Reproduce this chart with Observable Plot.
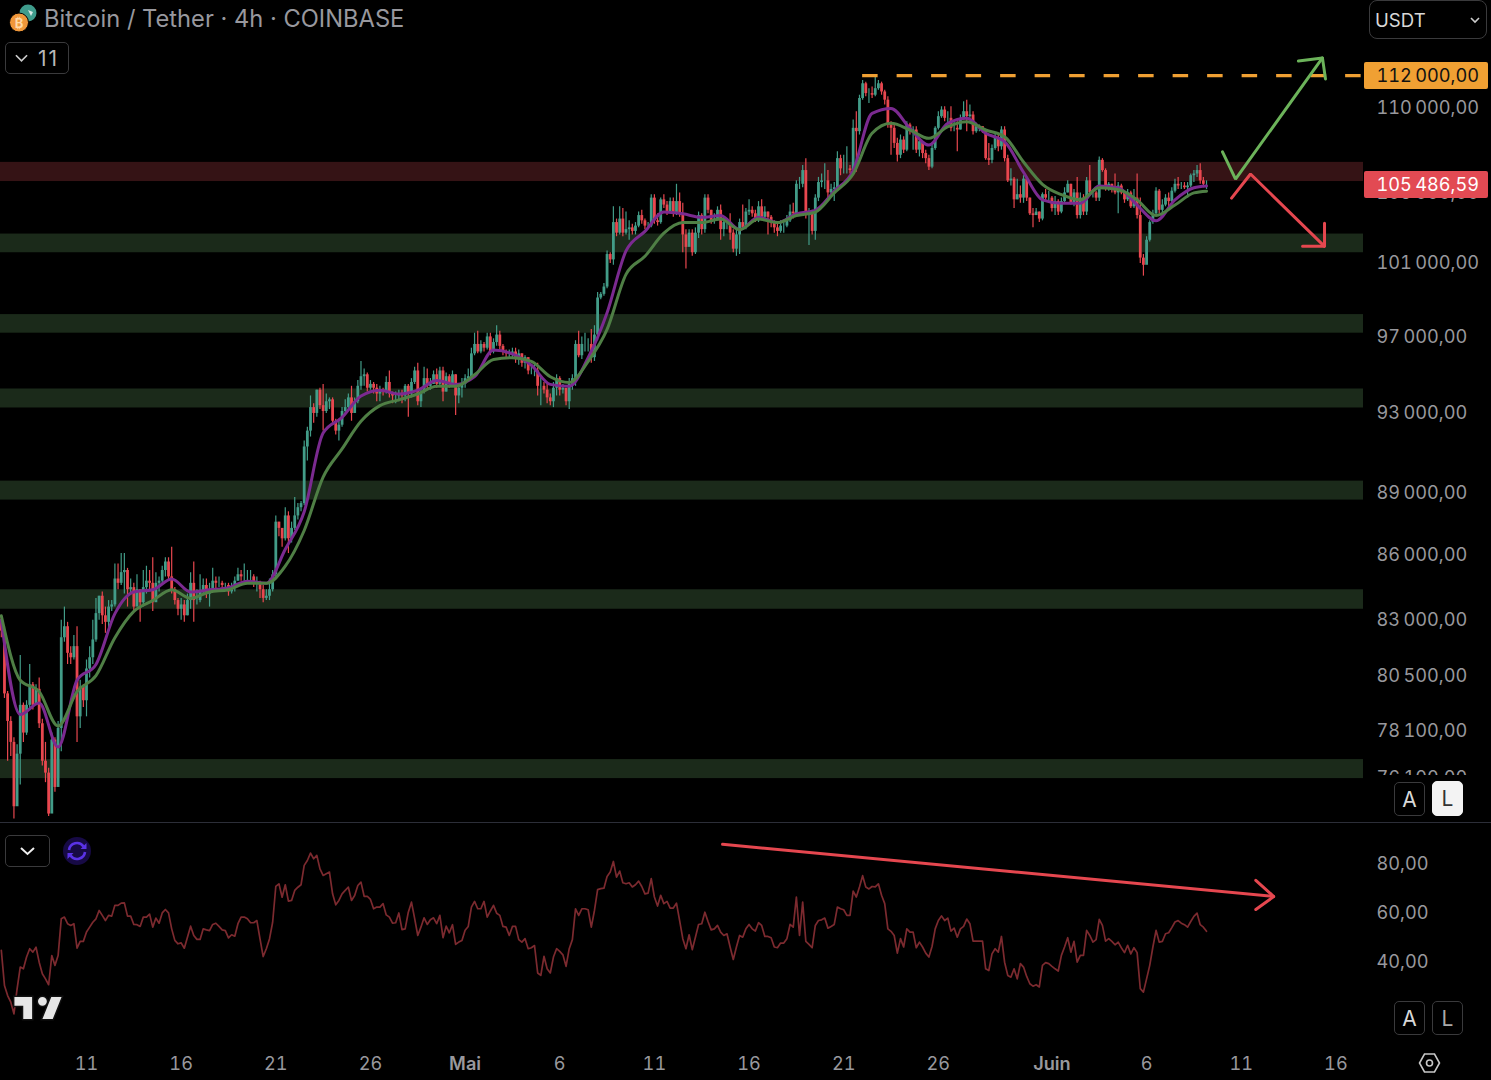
<!DOCTYPE html>
<html>
<head>
<meta charset="utf-8">
<script src="https://cdn.jsdelivr.net/npm/d3@7"></script>
<script src="https://cdn.jsdelivr.net/npm/@observablehq/plot@0.6"></script>
<style>
  html, body { margin: 0; background: #000; }
  #page { position: relative; width: 1491px; height: 1080px; overflow: hidden; background: #000; font-family: Inter, sans-serif; }
  #price, #rsi { position: absolute; left: 0; }
  #price { top: 1px; }
  #rsi { top: 823px; }
  .over { position: absolute; box-sizing: border-box; }
  .btn { border: 1.5px solid #3a3a3c; border-radius: 5px; color: #d8d8d8; display: flex; align-items: center; justify-content: center; }
  .tag { left: 1364px; width: 124px; height: 27px; border-radius: 2px; font-size: 18.2px; line-height: 27px; text-align: right; padding-right: 9px; font-variant-numeric: tabular-nums; }
</style>
</head>
<body>
<div id="page">
  <div id="price"></div>
  <div id="rsi"></div>
</div>
<script>
// all prices in thousands of USDT, one candle every 4h from 6 April 12:00
const firstOpen = 83.0
const closes = [
  82.5,79.7,78.5,77.6,74.9,77.1,
  79.2,78.0,79.2,80.1,79.2,79.9,
  78.4,76.8,76.3,74.6,77.7,75.7,
  78.2,82.2,82.7,81.5,81.3,81.8,
  78.7,80.0,79.4,80.8,81.3,82.1,
  83.3,84.1,83.2,82.9,83.6,83.7,
  84.9,84.7,85.2,85.3,84.4,84.5,
  83.6,84.4,83.8,84.5,84.8,84.7,
  83.8,84.7,84.8,85.3,85.7,85.0,
  84.4,83.9,83.5,83.7,83.2,83.9,
  84.7,83.9,83.9,84.3,84.6,84.2,
  84.4,84.8,84.7,84.7,84.6,84.6,
  84.3,84.5,84.8,85.1,85.0,85.0,
  85.0,85.0,84.7,84.7,84.4,84.0,
  84.1,84.4,85.1,87.6,87.3,86.8,
  87.9,86.8,87.3,87.9,88.3,88.5,
  91.3,92.1,93.3,93.0,94.2,93.4,
  93.1,93.6,93.7,92.6,92.1,92.4,
  93.1,93.3,93.8,93.0,93.6,94.4,
  94.9,95.0,94.3,94.5,94.3,94.0,
  94.2,94.1,94.6,94.0,93.9,93.9,
  94.0,93.9,94.4,94.0,94.6,95.2,
  93.6,94.1,94.8,94.4,94.5,95.0,
  94.5,95.2,94.1,94.9,94.5,95.0,
  93.9,94.3,94.5,94.8,94.9,96.1,
  96.6,96.2,96.6,96.4,97.0,96.2,
  96.7,97.1,96.5,96.2,96.1,96.1,
  96.2,95.8,96.1,95.6,95.9,95.2,
  95.2,95.2,94.4,94.4,94.2,93.8,
  93.6,94.3,94.8,94.2,94.3,93.6,
  94.5,94.8,96.6,96.0,96.6,96.6,
  96.6,95.9,97.1,99.1,99.3,99.7,
  101.5,101.2,103.3,102.7,103.5,102.7,
  102.9,103.0,102.8,103.1,103.7,103.4,
  103.1,103.1,104.7,103.4,103.3,104.6,
  104.3,103.9,104.5,103.8,104.5,103.8,
  102.6,101.9,102.7,101.6,102.7,103.7,
  102.9,104.7,104.0,103.4,103.5,104.0,
  102.9,103.3,103.3,102.7,101.8,102.6,
  103.3,103.0,103.9,104.0,103.8,103.4,
  104.2,103.6,103.9,103.6,103.3,103.0,
  102.8,103.1,103.1,103.4,103.9,103.8,
  105.5,105.5,106.3,103.7,103.9,102.8,
  104.7,105.6,105.7,105.7,105.0,105.2,
  105.3,107.0,106.4,106.4,106.4,106.3,
  108.8,108.6,110.6,111.5,110.9,110.9,
  110.8,111.2,111.5,111.0,110.5,109.0,
  108.8,107.9,107.2,108.1,107.5,109.0,
  108.6,108.7,107.5,108.0,107.3,107.0,
  106.5,107.6,108.8,109.5,109.9,109.4,
  109.4,108.8,108.8,108.7,109.4,109.8,
  109.5,109.6,108.6,108.9,108.9,108.7,
  107.0,106.9,107.6,108.2,107.7,108.7,
  107.0,105.7,105.8,104.6,104.9,104.7,
  105.8,104.7,103.8,103.7,103.9,103.5,
  104.9,104.7,104.7,104.1,104.5,103.9,
  104.5,105.0,105.5,104.4,105.0,103.7,
  104.7,103.9,105.7,105.0,105.0,104.7,
  106.9,106.3,105.2,105.5,105.2,105.0,
  105.4,105.0,104.6,105.0,104.2,104.7,
  103.7,101.3,100.9,102.3,103.3,103.8,
  105.1,104.0,104.3,104.7,104.5,105.1,
  105.5,105.4,105.4,105.3,105.4,106.0,
  106.1,106.3,105.7,105.5,105.5
]
const highs = [
  83.2,82.7,79.8,78.7,77.8,77.5,
  81.4,79.3,79.4,81.0,80.2,80.1,
  80.4,78.6,77.6,76.5,78.0,77.8,
  78.5,83.0,83.6,82.9,81.8,82.3,
  82.7,80.3,80.1,81.2,81.8,83.0,
  84.0,84.1,84.3,83.6,83.9,83.9,
  85.6,85.6,86.1,86.1,85.4,84.9,
  84.7,85.1,84.0,85.3,85.5,85.3,
  85.9,85.2,85.0,85.5,85.9,85.9,
  86.4,84.5,84.0,84.0,83.9,84.2,
  85.2,85.7,84.4,85.1,84.9,84.9,
  84.7,85.4,85.0,85.0,84.8,84.7,
  84.7,84.7,85.0,85.4,85.3,85.6,
  85.3,85.3,85.1,85.0,84.8,84.6,
  84.4,84.9,85.3,87.9,87.6,87.3,
  88.3,88.1,87.6,88.8,88.5,88.6,
  91.6,92.3,93.9,93.5,94.2,94.3,
  94.5,94.0,93.8,93.8,92.7,92.7,
  93.3,93.7,94.0,94.4,93.8,94.7,
  95.7,95.3,95.1,94.7,94.6,94.5,
  94.4,94.3,94.9,95.2,94.1,94.1,
  94.2,94.2,94.5,94.5,94.8,95.4,
  95.6,94.3,95.4,95.3,94.8,95.2,
  95.3,95.4,95.4,95.1,95.0,95.2,
  95.0,94.5,94.8,95.0,95.3,96.4,
  97.2,97.3,96.8,96.7,97.2,97.2,
  96.9,97.6,97.3,96.6,96.3,96.3,
  96.4,96.4,96.3,96.1,96.0,95.9,
  95.4,95.6,95.6,94.9,94.6,94.5,
  94.0,94.6,95.0,94.9,94.5,94.2,
  94.8,95.0,96.8,97.3,97.0,97.2,
  96.9,97.4,97.6,99.4,99.4,99.9,
  101.7,101.6,104.2,103.5,104.2,104.1,
  103.9,103.4,103.2,103.3,103.9,104.0,
  103.5,103.3,104.9,104.9,103.8,104.7,
  104.9,104.5,104.7,104.7,105.5,105.0,
  104.4,102.9,102.9,102.9,103.0,103.9,
  103.8,104.9,104.9,104.0,103.8,104.2,
  104.3,103.6,103.5,103.8,102.9,103.0,
  103.5,104.3,104.1,104.6,104.2,104.0,
  104.5,104.6,104.2,103.9,103.7,103.4,
  103.2,103.4,103.3,103.7,104.3,104.4,
  105.7,105.9,106.6,107.0,104.1,104.0,
  104.9,105.9,106.1,106.7,106.3,105.5,
  105.6,107.4,107.2,107.2,107.7,106.6,
  109.3,109.8,110.8,111.7,111.6,111.2,
  111.3,112.0,111.7,111.6,111.1,110.7,
  109.2,109.0,108.2,108.4,108.3,109.2,
  109.1,108.9,108.9,108.2,107.6,107.5,
  107.2,107.8,108.9,109.8,110.1,110.1,
  109.8,110.1,109.2,109.2,109.6,110.4,
  110.5,110.2,109.8,109.1,109.0,108.9,
  108.7,107.9,107.8,108.5,108.4,108.9,
  108.9,107.2,106.4,105.9,105.8,105.4,
  106.0,105.9,104.7,104.1,104.1,103.9,
  105.0,105.2,105.1,104.8,104.8,104.6,
  104.7,105.3,105.7,105.5,105.2,105.9,
  105.0,104.9,105.9,106.6,105.2,105.1,
  107.1,107.0,106.4,105.6,105.5,106.1,
  105.6,105.5,105.1,105.2,105.1,105.2,
  106.1,104.7,101.5,102.5,103.4,104.0,
  105.3,105.2,104.6,104.9,105.0,105.3,
  105.8,105.9,105.6,105.6,105.6,106.1,
  106.3,106.6,106.7,105.9,105.7
]
const lows = [
  82.2,79.5,76.8,77.0,74.4,75.0,
  75.8,77.6,77.9,79.0,79.0,79.2,
  78.2,76.6,75.9,74.5,74.8,75.5,
  75.9,77.2,82.0,81.0,81.0,81.2,
  77.6,78.2,79.1,78.7,80.4,81.0,
  82.0,83.0,82.8,82.4,82.5,83.4,
  83.6,84.4,84.6,84.2,83.6,84.2,
  83.4,84.2,82.9,83.6,84.2,84.4,
  83.4,84.2,84.3,84.7,85.0,84.8,
  84.2,83.7,83.2,83.0,82.9,83.2,
  83.5,82.9,83.7,83.8,84.2,84.0,
  83.6,84.4,84.4,84.5,84.4,84.4,
  84.1,84.2,84.3,84.8,84.8,84.8,
  84.7,84.7,84.5,84.3,84.0,83.8,
  83.9,83.9,84.3,84.9,86.9,86.4,
  86.7,86.1,86.6,87.2,87.7,88.1,
  88.4,90.6,91.8,92.5,92.8,93.2,
  92.1,93.0,93.2,92.4,91.9,91.6,
  92.3,93.0,93.2,92.6,93.0,93.5,
  94.2,94.4,94.1,94.2,94.0,93.6,
  93.6,93.9,94.0,93.8,93.5,93.5,
  93.6,93.5,93.6,92.8,93.8,94.5,
  93.4,93.3,94.0,94.2,94.2,94.5,
  94.3,94.4,93.6,94.1,94.3,94.5,
  92.9,93.5,93.8,94.3,94.6,94.9,
  96.0,96.1,96.1,96.2,96.3,96.0,
  96.1,96.5,96.3,96.0,95.9,95.9,
  95.8,95.6,95.5,95.4,95.3,95.0,
  95.0,94.9,93.9,93.4,94.0,93.5,
  93.4,93.3,93.9,93.9,94.0,93.4,
  93.2,94.2,94.4,95.9,95.8,96.2,
  96.2,95.6,95.7,96.8,99.0,99.2,
  99.6,101.0,100.9,102.5,102.6,102.5,
  102.6,102.3,102.6,102.6,103.0,103.2,
  102.9,102.9,103.0,103.2,103.1,103.2,
  104.1,103.7,103.8,103.6,103.7,103.6,
  101.6,100.7,102.0,101.4,101.5,102.4,
  102.6,102.7,103.8,103.2,103.2,103.4,
  102.3,102.5,102.9,102.3,101.6,101.4,
  101.5,102.9,102.9,103.7,103.6,103.3,
  103.3,103.4,103.5,102.6,103.0,102.7,
  102.5,102.7,102.7,103.0,103.3,103.5,
  103.7,105.2,105.3,103.5,102.0,102.6,
  102.3,104.5,105.3,105.2,104.6,104.8,
  104.5,105.2,106.0,106.1,106.1,106.1,
  106.2,106.2,108.4,110.5,110.7,110.3,
  110.6,110.7,111.1,110.8,110.2,108.8,
  107.2,107.6,106.8,107.0,107.3,107.4,
  108.4,107.5,107.3,107.1,107.0,106.7,
  106.3,106.4,107.5,108.7,109.4,109.2,
  109.0,108.6,108.6,107.4,108.7,109.3,
  108.6,109.4,108.4,108.5,108.6,108.5,
  106.9,106.6,106.7,107.5,107.4,107.5,
  106.8,105.6,105.4,104.1,104.6,104.4,
  104.4,104.5,103.7,103.0,103.7,103.3,
  103.4,104.5,104.4,103.9,103.7,103.7,
  103.8,104.4,105.0,104.3,104.2,103.5,
  103.5,103.7,103.7,104.9,104.7,104.5,
  104.5,106.2,105.1,105.1,105.0,104.9,
  103.8,104.9,104.4,104.5,104.1,104.1,
  103.5,101.0,100.3,101.0,102.2,103.2,
  103.7,103.8,103.8,104.2,104.2,104.4,
  105.0,105.2,105.2,105.2,104.7,105.3,
  105.6,105.9,105.5,105.3,105.2
]
// moving averages, read once a day, last value at the last candle
const maFast = [83.0,78.8,79.3,77.4,80.3,81.0,83.3,84.3,84.4,84.9,84.3,84.4,84.5,84.8,84.7,86.3,
  88.1,92.0,92.8,93.9,94.2,94.0,94.2,94.7,94.5,94.9,96.3,96.1,95.5,94.5,94.4,95.9,
  98.3,101.7,102.8,103.9,103.8,103.6,103.7,102.9,103.6,103.3,103.8,104.0,105.1,106.3,
  109.7,110.0,108.8,107.8,109.1,109.4,108.5,108.0,106.2,104.6,
  104.4,104.4,105.4,105.3,104.3,103.4,104.6,105.3,105.4]
const maSlow = [83.2,80.3,79.8,78.3,79.8,80.5,82.2,83.4,83.9,84.4,84.0,84.3,84.4,84.7,84.7,85.5,
  87.2,89.8,91.2,92.6,93.4,93.7,94.0,94.4,94.4,95.0,95.8,95.9,95.7,94.9,94.6,95.7,
  97.4,100.4,101.4,102.7,103.3,103.3,103.5,102.9,103.5,103.3,103.7,103.9,105.0,106.1,
  108.5,109.1,108.7,108.2,108.9,109.2,108.7,108.3,106.8,105.5,
  104.9,104.6,105.3,105.2,104.6,103.7,104.3,105.0,105.1]
const rsiValues = [
  44.9,30.6,26.5,23.8,19.0,29.2,38.1,37.4,42.2,45.6,44.2,46.2,40.1,35.4,33.3,30.9,42.8,38.8,42.8,57.8,
  58.5,55.8,55.1,55.8,45.8,48.6,48.6,52.4,54.4,56.4,57.8,61.2,59.2,57.1,59.2,58.9,63.3,63.3,64.2,64.3,
  58.9,58.9,55.5,55.4,54.7,58.5,58.5,59.7,54.4,58.1,56.0,60.2,61.6,60.2,53.7,49.0,47.6,48.0,45.8,50.3,
  54.8,51.0,49.4,49.4,53.7,53.3,53.0,55.5,56.0,54.7,53.3,53.0,50.0,51.3,50.7,55.8,58.5,58.5,57.8,56.2,
  56.2,57.1,49.6,42.4,45.6,49.6,56.4,71.0,72.1,66.6,71.7,65.0,65.3,69.4,70.7,71.7,79.6,81.6,84.6,82.3,
  83.7,78.2,75.5,76.2,76.9,68.0,63.5,65.3,68.0,69.4,70.7,65.3,67.3,71.4,72.8,67.0,67.0,65.7,61.9,62.6,
  62.6,64.0,59.4,58.5,56.0,56.2,60.2,53.4,53.7,60.5,64.6,58.0,51.0,54.4,58.2,55.5,57.4,58.2,55.8,59.2,
  50.1,54.8,52.1,55.4,47.4,48.3,49.0,53.1,54.7,62.6,64.9,61.9,61.9,64.9,58.5,61.0,63.3,60.1,59.2,54.7,
  54.4,51.0,54.7,54.7,49.3,48.3,49.7,45.6,46.0,46.9,35.7,34.7,42.5,37.4,35.7,42.2,45.6,44.5,43.1,38.4,
  45.6,49.3,61.9,59.2,61.9,61.9,61.5,54.4,61.2,69.7,70.1,70.3,75.1,76.9,81.2,74.8,77.3,72.5,72.1,72.5,
  70.8,71.7,73.2,71.0,68.0,68.3,74.2,66.7,63.0,67.4,64.0,64.9,62.2,62.2,64.2,57.1,49.7,45.6,51.3,45.2,
  50.3,55.5,55.8,60.5,56.7,53.3,53.7,55.1,52.4,51.0,51.7,46.3,41.2,46.3,51.0,50.3,53.7,55.5,53.7,52.8,
  56.2,55.1,50.6,50.6,50.1,46.3,46.0,47.9,47.9,49.7,55.5,54.4,66.7,51.0,64.6,48.6,47.4,46.0,55.1,57.1,
  57.4,58.1,54.0,54.7,55.5,62.6,61.9,61.5,59.2,59.2,69.1,66.7,70.8,75.4,70.8,70.0,71.0,70.8,72.1,67.4,
  64.0,53.7,52.7,51.0,43.8,49.7,46.3,53.7,52.4,52.4,46.0,48.3,46.3,43.8,42.2,46.5,53.7,57.1,59.0,57.1,
  58.1,52.8,54.0,50.3,53.7,54.7,57.7,55.8,48.7,48.7,48.7,48.7,37.4,36.7,43.5,45.6,44.2,50.6,40.1,34.7,
  34.0,37.4,33.3,39.5,38.1,34.3,31.3,30.3,30.9,30.0,38.8,39.9,39.5,38.4,37.4,36.5,42.9,46.3,50.1,44.2,
  48.6,40.1,42.9,42.9,53.1,51.0,48.3,49.3,57.6,55.1,48.7,49.7,48.6,47.2,48.3,46.0,44.0,47.0,43.5,46.0,
  44.0,29.3,27.9,33.3,38.8,46.3,53.1,48.3,48.6,51.7,52.1,54.2,56.5,57.1,56.0,55.4,54.4,56.7,58.8,60.1,
  55.4,54.4,52.7
]
const priceTicks = [110, 105, 101, 97, 93, 89, 86, 83, 80.5, 78.1, 76.1]
const rsiTicks = [80, 60, 40]
const dayTicks = [0, 5, 10, 15, 20, 25, 30, 35, 40, 45, 51, 56, 61, 66]
const dayLabels = ['11','16','21','26','Mai','6','11','16','21','26','Juin','6','11','16']
// support and resistance bands: [low, high]
const greenZones = [[101.6,102.65],[97.2,98.2],[93.28,94.26],[88.67,89.6],[83.5,84.4],[76.07,76.87]]
const redZones = [[105.66,106.78]]
const target = 112
const lastPrice = 105.48659
// hand drawn arrows, days after 11 April and price
const upArrow = [[60.01,107.4],[60.7,105.8],[65.29,113.1]]
const upHead = [[64.02,112.9],[65.29,113.1],[65.45,111.8]]
const downArrow = [[60.49,104.7],[61.49,106.1],[65.4,101.96]]
const downHead = [[64.24,101.96],[65.4,101.96],[65.4,103.26]]
const rsiArrow = [[33.6,88.2],[62.72,66.9]]
const rsiHead = [[61.77,73.5],[62.72,66.9],[61.77,61.6]]

const apr11 = Date.UTC(2025, 3, 11)
const day = n => new Date(apr11 + n * 864e5)
const green = '#429c88'
const red = '#e8474f'

const candles = closes.map((c, i) => {
  const open = i ? closes[i - 1] : firstOpen
  return {date: day(-4.5 + i / 6), open, close: c, high: highs[i], low: lows[i], color: c >= open ? green : red}
})
const maPoint = (v, k) => ({date: day(k < 64 ? -4.5 + k : -4.5 + 382 / 6), v})
const rsi = rsiValues.map((v, i) => ({date: day(-4.5 + i / 6), v}))
const pts = a => a.map(([d, v]) => ({date: day(d), v}))
const xDomain = [day(-86 / 18.93), day(1277 / 18.93)]
const priceFormat = k => {
  const n = Math.round(k * 1000)
  return `${Math.floor(n / 1000)}\u202f${String(n % 1000).padStart(3, '0')},00`
}
const style = {background: 'transparent', color: '#98989d', fontFamily: 'Inter, sans-serif', fontSize: '18.2px'}
const line = (a, stroke, w) => Plot.line(pts(a), {x: 'date', y: 'v', stroke, strokeWidth: w, strokeLinejoin: 'miter', clip: false})

const priceChart = Plot.plot({
  width: 1491,
  height: 823,
  marginLeft: 0,
  marginRight: 128,
  marginTop: 0,
  marginBottom: 1,
  style,
  x: {type: 'utc', domain: xDomain, axis: null},
  y: {type: 'log', domain: [74.213, 116.665], label: null, axis: null},
  marks: [
    Plot.rect(greenZones, {x1: xDomain[0], x2: xDomain[1], y1: d => d[0], y2: d => d[1], fill: '#1b2a1a'}),
    Plot.rect(redZones, {x1: xDomain[0], x2: xDomain[1], y1: d => d[0], y2: d => d[1], fill: '#351315'}),
    Plot.ruleX(candles, {x: 'date', y1: 'low', y2: 'high', stroke: 'color', strokeWidth: 1.2, clip: true}),
    Plot.ruleX(candles, {x: 'date', y1: 'open', y2: 'close', stroke: 'color', strokeWidth: 2.8, clip: true}),
    Plot.line(maFast.map(maPoint), {x: 'date', y: 'v', stroke: '#7b2a90', strokeWidth: 3, curve: 'monotone-x', clip: true}),
    Plot.line(maSlow.map(maPoint), {x: 'date', y: 'v', stroke: '#4f7f45', strokeWidth: 3, curve: 'monotone-x', clip: true}),
    Plot.ruleY([target], {x1: day(41), x2: xDomain[1], stroke: '#f0a033', strokeWidth: 3.4, strokeDasharray: '15.5 19'}),
    line(upArrow, '#6cb35a', 3), line(upHead, '#6cb35a', 3),
    line(downArrow, '#e5474f', 3), line(downHead, '#e5474f', 3),
    Plot.axisY(priceTicks, {anchor: 'right', tickSize: 0, tickPadding: 13, tickFormat: priceFormat, textAnchor: 'start', label: null})
  ]
})
document.getElementById('price').append(priceChart)

const rsiChart = Plot.plot({
  width: 1491,
  height: 257,
  marginLeft: 0,
  marginRight: 128,
  marginTop: 0,
  marginBottom: 35,
  style,
  x: {type: 'utc', domain: xDomain, axis: null},
  y: {domain: [6.1, 96.7], label: null, axis: null},
  marks: [
    Plot.line(rsi, {x: 'date', y: 'v', stroke: '#7c2a2f', strokeWidth: 1.7, clip: true}),
    line(rsiArrow, '#e5474f', 3), line(rsiHead, '#e5474f', 3),
    Plot.axisY(rsiTicks, {anchor: 'right', tickSize: 0, tickPadding: 13, tickFormat: d => `${d},00`, textAnchor: 'start', label: null}),
    Plot.axisX(dayTicks.map(day).filter((d, i) => dayLabels[i] !== 'Mai' && dayLabels[i] !== 'Juin'), {
      tickSize: 0, tickPadding: 12, tickFormat: d => String(d.getUTCDate()), label: null
    }),
    Plot.axisX([day(20), day(51)], {
      tickSize: 0, tickPadding: 12, fontWeight: 600, tickFormat: d => d.getUTCMonth() === 4 ? 'Mai' : 'Juin', label: null
    })
  ]
})
document.getElementById('rsi').append(rsiChart)

// chrome around the chart, price tags sit on the y scale
const page = d3.select('#page')
const y = priceChart.scale('y')
const over = (css, html, cls = '') => page.append('div').attr('class', 'over ' + cls).attr('style', css).html(html)
over('left:1364px;top:775px;width:127px;height:47px;background:#000', '')
over(`top:${y.apply(target) - 12.5}px;background:#f0a033;color:#111`, priceFormat(target), 'tag')
over(`top:${y.apply(lastPrice) - 12}px;background:#e24a53;color:#fff`, '105\u202f486,59', 'tag')
over('left:0;top:822px;width:1491px;height:1px;background:#2c2e38', '')
over('left:44px;top:4px;font-size:23.7px;line-height:30px;color:#98989e;white-space:nowrap', 'Bitcoin / Tether · 4h · COINBASE')
over('left:5px;top:42px;width:64px;height:32px;font-size:21px;letter-spacing:2px;color:#b8b8b8', '<svg width="13" height="9" viewBox="0 0 14 9" style="margin-right:10px"><path d="M1 1l6 6 6-6" fill="none" stroke="#ccc" stroke-width="1.8"/></svg>11', 'btn')
over('left:1369px;top:0;width:118px;height:39px;border-radius:8px;font-size:18.6px;justify-content:flex-start;padding-left:5px', 'USDT<svg width="10" height="7" viewBox="0 0 10 7" style="position:absolute;right:6px;top:16px"><path d="M1 1l4 4 4-4" fill="none" stroke="#ccc" stroke-width="1.6"/></svg>', 'btn')
over('left:5px;top:835px;width:45px;height:32px', '<svg width="15" height="9" viewBox="0 0 15 9"><path d="M1 1l6.5 6 6.5-6" fill="none" stroke="#eee" stroke-width="2"/></svg>', 'btn')
over('left:1394px;top:782px;width:31px;height:34px;font-size:21px', 'A', 'btn')
over('left:1432px;top:781px;width:31px;height:35px;font-size:21px;background:#f3f3f3;border-color:#f3f3f3;color:#333', 'L', 'btn')
over('left:1394px;top:1001px;width:31px;height:34px;font-size:21px', 'A', 'btn')
over('left:1432px;top:1001px;width:31px;height:34px;font-size:21px;color:#aaa', 'L', 'btn')
over('left:8px;top:2px', `<svg width="32" height="32" viewBox="0 0 32 32">
  <circle cx="20" cy="11" r="8.5" fill="#3f9c8c"/><path d="M20 8l5 2-2 4z" fill="#d8e8e4"/>
  <circle cx="11" cy="20.5" r="9.5" fill="#f0973a" stroke="#000" stroke-width="1"/>
  <text x="11" y="25.5" font-size="13" font-weight="700" fill="#ffd9a8" text-anchor="middle" font-family="Inter">₿</text></svg>`)
over('left:63px;top:837px', `<svg width="28" height="28" viewBox="0 0 28 28"><circle cx="14" cy="14" r="14" fill="#170a45"/>
  <path d="M6 13a8 8 0 0 1 14.5-3.5M22 15a8 8 0 0 1-14.5 3.5" fill="none" stroke="#5a32e6" stroke-width="2.6"/>
  <path d="M23.5 6v6h-6zM4.5 22v-6h6z" fill="#5a32e6"/></svg>`)
over('left:10px;top:992px', `<svg width="56" height="32" viewBox="-1 3 38 21"><path d="M14 6H2v6h6v9h6V6zm14 15h-7l6-15h7l-6 15zm-7-9a3 3 0 100-6 3 3 0 000 6z" fill="#e6e6e6" stroke="#111" stroke-width="2" paint-order="stroke"/></svg>`)
over('left:1418px;top:1052px', `<svg width="23" height="22" viewBox="0 0 23 22"><path d="M6.5 2h10l5 9-5 9h-10l-5-9z" fill="none" stroke="#c8c8c8" stroke-width="1.6"/><circle cx="11.5" cy="11" r="3" fill="none" stroke="#c8c8c8" stroke-width="1.6"/></svg>`)
</script>
</body>
</html>
